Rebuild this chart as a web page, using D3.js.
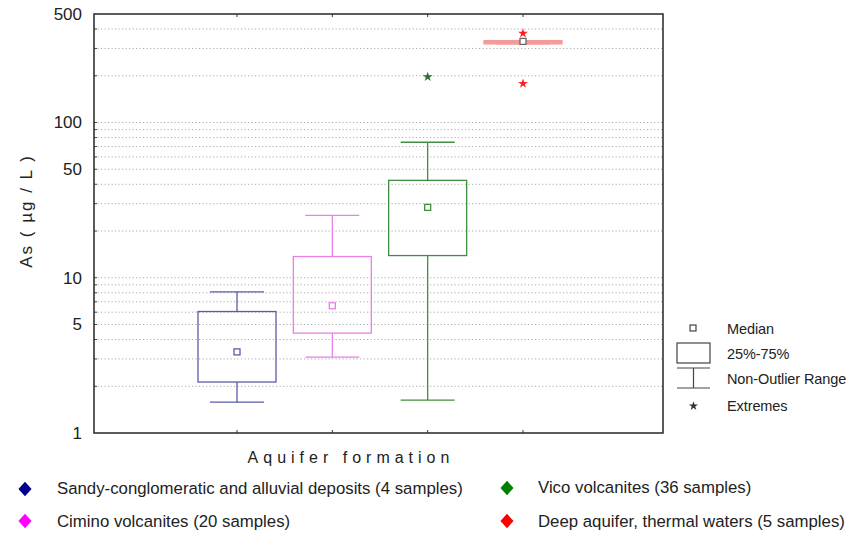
<!DOCTYPE html>
<html>
<head>
<meta charset="utf-8">
<script src="https://cdn.jsdelivr.net/npm/d3@7"></script>
<style>
  body { margin: 0; background: #fff; }
  text { font-family: "Liberation Sans", Arial, sans-serif; fill: #222; }
</style>
</head>
<body>
<svg width="848" height="542"></svg>
<script>
// data (µg/L)
const groups = ["Sandy-conglomeratic and alluvial deposits (4 samples)", "Cimino volcanites (20 samples)", "Vico volcanites (36 samples)", "Deep aquifer, thermal waters (5 samples)"];
const boxColors = ["#5b5bab", "#ea7fea", "#3f8f3f", "#f39a9a"];
const keyColors = ["#000090", "#ff00ff", "#008000", "#ff0000"];
const medians = [3.33, 6.6, 28.4, 333];
const q1 = [2.13, 4.4, 13.9, 321];
const q3 = [6.06, 13.7, 42.4, 337];
const whiskLo = [1.58, 3.08, 1.63, 321];
const whiskHi = [8.12, 25.2, 74.6, 337];
const extremes = [[], [], [197], [375, 178]];
const yTicks = [1, 5, 10, 50, 100, 500];

const svg = d3.select("svg");
const pL = 94, pR = 663, pT = 14, pB = 433;

const x = d3.scalePoint().domain(groups).range([pL, pR + 3]).padding(1.5);
const y = d3.scaleLog().domain([1, 500]).range([pB, pT]);

// minor grid at every 1..9 x 10^k
const grid = [];
for (let e = 0; e <= 2; e++)
	for (let m = 1; m <= 9; m++) {
		const v = m * Math.pow(10, e);
		if (v > 1 && v < 500) grid.push(v);
	}

svg.append("g")
	.selectAll("line")
	.data(grid)
	.join("line")
	.attr("x1", pL).attr("x2", pR)
	.attr("y1", d => y(d)).attr("y2", d => y(d))
	.attr("stroke", "#aaa")
	.attr("stroke-width", 1)
	.attr("stroke-dasharray", "1.2,2.3");

// small ticks on the left edge
svg.append("g")
	.selectAll("line")
	.data(grid)
	.join("line")
	.attr("x1", pL).attr("x2", pL + 3)
	.attr("y1", d => y(d)).attr("y2", d => y(d))
	.attr("stroke", "#444");

// y axis labels
const yAxis = d3.axisLeft(y).tickValues(yTicks).tickFormat(d3.format("d")).tickSize(0).tickPadding(12);
svg.append("g")
	.attr("transform", `translate(${pL},0)`)
	.call(yAxis)
	.call(g => g.select(".domain").remove())
	.call(g => g.selectAll("text")
		.attr("font-size", 17)
		.attr("font-family", "Liberation Sans, Arial, sans-serif")
		.attr("fill", "#222"));

// category ticks top and bottom
const xb = svg.append("g");
xb.selectAll(".tb")
	.data(groups)
	.join("line")
	.attr("class", "tb")
	.attr("x1", d => x(d)).attr("x2", d => x(d))
	.attr("y1", pB).attr("y2", pB - 3)
	.attr("stroke", "#333");
xb.selectAll(".tt")
	.data(groups)
	.join("line")
	.attr("class", "tt")
	.attr("x1", d => x(d)).attr("x2", d => x(d))
	.attr("y1", pT).attr("y2", pT + 3)
	.attr("stroke", "#333");

// boxes
const boxW = 78, capW = 54;
const b = svg.append("g")
	.selectAll("g")
	.data(groups.map((g, i) => ({g, i})))
	.join("g");

b.append("line")
	.attr("x1", d => x(d.g)).attr("x2", d => x(d.g))
	.attr("y1", d => y(whiskHi[d.i])).attr("y2", d => y(q3[d.i]))
	.attr("stroke", d => boxColors[d.i]).attr("stroke-width", 1.3);
b.append("line")
	.attr("x1", d => x(d.g)).attr("x2", d => x(d.g))
	.attr("y1", d => y(q1[d.i])).attr("y2", d => y(whiskLo[d.i]))
	.attr("stroke", d => boxColors[d.i]).attr("stroke-width", 1.3);
b.append("line")
	.attr("x1", d => x(d.g) - capW / 2).attr("x2", d => x(d.g) + capW / 2)
	.attr("y1", d => y(whiskHi[d.i])).attr("y2", d => y(whiskHi[d.i]))
	.attr("stroke", d => boxColors[d.i]).attr("stroke-width", 1.3);
b.append("line")
	.attr("x1", d => x(d.g) - capW / 2).attr("x2", d => x(d.g) + capW / 2)
	.attr("y1", d => y(whiskLo[d.i])).attr("y2", d => y(whiskLo[d.i]))
	.attr("stroke", d => boxColors[d.i]).attr("stroke-width", 1.3);
b.append("rect")
	.attr("x", d => x(d.g) - boxW / 2)
	.attr("width", boxW)
	.attr("y", d => y(q3[d.i]))
	.attr("height", d => y(q1[d.i]) - y(q3[d.i]))
	.attr("fill", d => d.i == 3 ? boxColors[d.i] : "none")
	.attr("stroke", d => boxColors[d.i]).attr("stroke-width", 1.3);
b.append("rect")
	.attr("x", d => x(d.g) - 3)
	.attr("y", d => y(medians[d.i]) - 3)
	.attr("width", 6).attr("height", 6)
	.attr("fill", "#fff")
	.attr("stroke", d => d.i == 3 ? "#666" : boxColors[d.i]).attr("stroke-width", 1.3);

const star = d3.symbol().type(d3.symbolStar).size(30);
b.selectAll(".ext")
	.data(d => extremes[d.i].map(v => ({v, g: d.g, i: d.i})))
	.join("path")
	.attr("class", "ext")
	.attr("d", star)
	.attr("transform", d => `translate(${x(d.g)},${y(d.v)})`)
	.attr("fill", d => d.i == 3 ? "#ff2020" : "#2f6f2f");

// frame
svg.append("rect")
	.attr("x", pL).attr("y", pT)
	.attr("width", pR - pL).attr("height", pB - pT)
	.attr("fill", "none").attr("stroke", "#333").attr("stroke-width", 1.6);

// axis titles
svg.append("text")
	.attr("transform", "translate(32,211) rotate(-90)")
	.attr("text-anchor", "middle")
	.attr("font-size", 17)
	.attr("letter-spacing", 2)
	.text("As ( µg / L )");

svg.append("text")
	.attr("x", 351).attr("y", 463)
	.attr("text-anchor", "middle")
	.attr("font-size", 16)
	.attr("letter-spacing", 5)
	.text("Aquifer formation");

// key on the right
const k = svg.append("g").attr("stroke", "#444").attr("fill", "none").attr("stroke-width", 1.2);
k.append("rect").attr("x", 690).attr("y", 325).attr("width", 6).attr("height", 6);
k.append("rect").attr("x", 677).attr("y", 343).attr("width", 33).attr("height", 20);
k.append("line").attr("x1", 677).attr("x2", 710).attr("y1", 368).attr("y2", 368);
k.append("line").attr("x1", 693.5).attr("x2", 693.5).attr("y1", 368).attr("y2", 388);
k.append("line").attr("x1", 677).attr("x2", 710).attr("y1", 388).attr("y2", 388);
svg.append("path").attr("d", d3.symbol().type(d3.symbolStar).size(26))
	.attr("transform", "translate(693.5,406)").attr("fill", "#333");

const keyLabels = ["Median", "25%-75%", "Non-Outlier Range", "Extremes"];
const keyY = [334, 359, 384, 411];
svg.append("g")
	.selectAll("text")
	.data(keyLabels)
	.join("text")
	.attr("x", 727)
	.attr("y", (d, i) => keyY[i])
	.attr("font-size", 14.5)
	.attr("letter-spacing", -0.1)
	.text(d => d);

// legend below
const legX = [25, 507, 25, 507];
const legY = [489, 488, 521, 521];
const legOrder = [0, 2, 1, 3];
const lg = svg.append("g")
	.selectAll("g")
	.data(legOrder)
	.join("g")
	.attr("transform", (d, j) => `translate(${legX[j]},${legY[j]})`);
lg.append("path")
	.attr("d", d3.symbol().type(d3.symbolDiamond2).size(110))
	.attr("transform", "scale(1,1.1)")
	.attr("fill", d => keyColors[d]);
lg.append("text")
	.attr("x", (d, j) => j % 2 == 0 ? 32 : 31)
	.attr("y", (d, j) => j < 2 ? 5 : 6)
	.attr("font-size", 16.8)
	.text(d => groups[d]);
</script>
</body>
</html>
